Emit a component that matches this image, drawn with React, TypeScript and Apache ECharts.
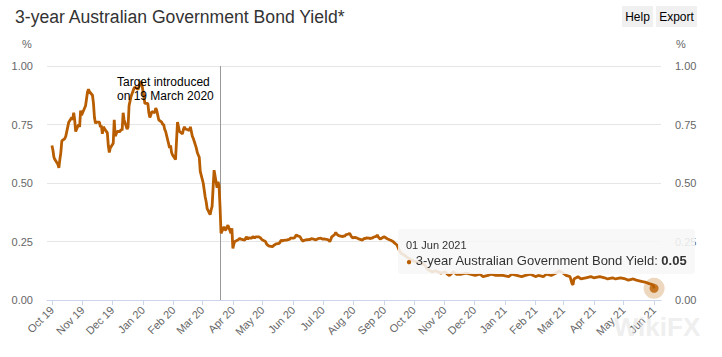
import React, { useEffect, useRef } from 'react';
import * as echarts from 'echarts';

const FONT = '"Liberation Sans", Arial, Helvetica, sans-serif';
const TITLE = '3-year Australian Government Bond Yield*';
const SERIES_NAME = '3-year Australian Government Bond Yield';
const LINE_COLOR = '#b95e00';

const bondYield: [string, number][] = [
  ['2019-10-01', 0.66], ['2019-10-02', 0.64], ['2019-10-03', 0.61], ['2019-10-04', 0.6],
  ['2019-10-07', 0.58], ['2019-10-08', 0.565], ['2019-10-09', 0.6], ['2019-10-10', 0.63],
  ['2019-10-11', 0.68], ['2019-10-14', 0.69], ['2019-10-15', 0.7], ['2019-10-16', 0.72],
  ['2019-10-17', 0.74], ['2019-10-18', 0.76], ['2019-10-21', 0.78], ['2019-10-22', 0.77],
  ['2019-10-23', 0.8], ['2019-10-24', 0.77], ['2019-10-25', 0.72], ['2019-10-28', 0.75],
  ['2019-10-29', 0.74], ['2019-10-30', 0.81], ['2019-10-31', 0.79], ['2019-11-01', 0.8],
  ['2019-11-04', 0.83], ['2019-11-05', 0.86], ['2019-11-06', 0.89], ['2019-11-07', 0.9],
  ['2019-11-08', 0.89], ['2019-11-11', 0.875], ['2019-11-12', 0.84], ['2019-11-13', 0.78],
  ['2019-11-14', 0.755], ['2019-11-15', 0.76], ['2019-11-18', 0.76], ['2019-11-19', 0.74],
  ['2019-11-20', 0.745], ['2019-11-21', 0.71], ['2019-11-22', 0.74], ['2019-11-25', 0.72],
  ['2019-11-26', 0.715], ['2019-11-27', 0.66], ['2019-11-28', 0.63], ['2019-11-29', 0.65],
  ['2019-12-02', 0.67], ['2019-12-03', 0.77], ['2019-12-04', 0.7], ['2019-12-05', 0.71],
  ['2019-12-06', 0.72], ['2019-12-09', 0.72], ['2019-12-10', 0.73], ['2019-12-11', 0.725],
  ['2019-12-12', 0.8], ['2019-12-13', 0.77], ['2019-12-16', 0.73], ['2019-12-17', 0.74],
  ['2019-12-18', 0.83], ['2019-12-19', 0.85], ['2019-12-20', 0.87], ['2019-12-23', 0.905],
  ['2019-12-24', 0.91], ['2019-12-27', 0.9], ['2019-12-30', 0.935], ['2019-12-31', 0.92],
  ['2020-01-02', 0.87], ['2020-01-03', 0.84], ['2020-01-06', 0.84], ['2020-01-07', 0.8],
  ['2020-01-08', 0.78], ['2020-01-09', 0.79], ['2020-01-10', 0.805], ['2020-01-13', 0.8],
  ['2020-01-14', 0.82], ['2020-01-15', 0.81], ['2020-01-16', 0.79], ['2020-01-17', 0.77],
  ['2020-01-20', 0.76], ['2020-01-21', 0.75], ['2020-01-22', 0.75], ['2020-01-23', 0.73],
  ['2020-01-24', 0.72], ['2020-01-28', 0.65], ['2020-01-29', 0.66], ['2020-01-30', 0.63],
  ['2020-01-31', 0.62], ['2020-02-03', 0.6], ['2020-02-04', 0.68], ['2020-02-05', 0.76],
  ['2020-02-06', 0.74], ['2020-02-07', 0.72], ['2020-02-10', 0.71], ['2020-02-11', 0.73],
  ['2020-02-12', 0.74], ['2020-02-13', 0.73], ['2020-02-14', 0.73], ['2020-02-17', 0.725],
  ['2020-02-18', 0.74], ['2020-02-19', 0.72], ['2020-02-20', 0.7], ['2020-02-21', 0.69],
  ['2020-02-24', 0.65], ['2020-02-25', 0.63], ['2020-02-26', 0.62], ['2020-02-27', 0.61],
  ['2020-02-28', 0.55], ['2020-03-02', 0.5], ['2020-03-03', 0.47], ['2020-03-04', 0.44],
  ['2020-03-05', 0.42], ['2020-03-06', 0.39], ['2020-03-09', 0.365], ['2020-03-10', 0.385],
  ['2020-03-11', 0.4], ['2020-03-12', 0.48], ['2020-03-13', 0.555], ['2020-03-16', 0.48],
  ['2020-03-17', 0.505], ['2020-03-18', 0.49], ['2020-03-19', 0.4], ['2020-03-20', 0.285],
  ['2020-03-23', 0.313], ['2020-03-24', 0.3], ['2020-03-25', 0.3], ['2020-03-26', 0.31],
  ['2020-03-27', 0.32], ['2020-03-30', 0.285], ['2020-03-31', 0.306], ['2020-04-01', 0.22],
  ['2020-04-02', 0.24], ['2020-04-03', 0.25], ['2020-04-06', 0.256], ['2020-04-07', 0.26],
  ['2020-04-08', 0.264], ['2020-04-09', 0.26], ['2020-04-13', 0.256], ['2020-04-14', 0.265],
  ['2020-04-15', 0.27], ['2020-04-16', 0.26], ['2020-04-17', 0.265], ['2020-04-20', 0.264],
  ['2020-04-21', 0.27], ['2020-04-22', 0.27], ['2020-04-23', 0.265], ['2020-04-24', 0.27],
  ['2020-04-27', 0.27], ['2020-04-28', 0.268], ['2020-04-29', 0.265], ['2020-04-30', 0.26],
  ['2020-05-01', 0.256], ['2020-05-04', 0.25], ['2020-05-05', 0.24], ['2020-05-06', 0.235],
  ['2020-05-07', 0.232], ['2020-05-08', 0.23], ['2020-05-11', 0.228], ['2020-05-12', 0.232],
  ['2020-05-13', 0.235], ['2020-05-14', 0.238], ['2020-05-15', 0.24], ['2020-05-18', 0.242],
  ['2020-05-19', 0.25], ['2020-05-20', 0.256], ['2020-05-21', 0.252], ['2020-05-22', 0.255],
  ['2020-05-25', 0.256], ['2020-05-26', 0.256], ['2020-05-27', 0.26], ['2020-05-28', 0.258],
  ['2020-05-29', 0.264], ['2020-06-01', 0.264], ['2020-06-02', 0.265], ['2020-06-03', 0.27],
  ['2020-06-04', 0.278], ['2020-06-05', 0.275], ['2020-06-08', 0.27], ['2020-06-09', 0.262],
  ['2020-06-10', 0.255], ['2020-06-11', 0.252], ['2020-06-12', 0.255], ['2020-06-15', 0.258],
  ['2020-06-16', 0.256], ['2020-06-17', 0.26], ['2020-06-18', 0.258], ['2020-06-19', 0.262],
  ['2020-06-22', 0.26], ['2020-06-23', 0.258], ['2020-06-24', 0.256], ['2020-06-25', 0.26],
  ['2020-06-26', 0.262], ['2020-06-29', 0.264], ['2020-06-30', 0.262], ['2020-07-01', 0.26],
  ['2020-07-02', 0.262], ['2020-07-03', 0.26], ['2020-07-06', 0.258], ['2020-07-07', 0.255],
  ['2020-07-08', 0.25], ['2020-07-09', 0.258], ['2020-07-10', 0.27], ['2020-07-13', 0.28],
  ['2020-07-14', 0.289], ['2020-07-15', 0.282], ['2020-07-16', 0.278], ['2020-07-17', 0.275],
  ['2020-07-20', 0.272], ['2020-07-21', 0.27], ['2020-07-22', 0.275], ['2020-07-23', 0.272],
  ['2020-07-24', 0.278], ['2020-07-27', 0.282], ['2020-07-28', 0.285], ['2020-07-29', 0.278],
  ['2020-07-30', 0.27], ['2020-07-31', 0.266], ['2020-08-03', 0.268], ['2020-08-04', 0.265],
  ['2020-08-05', 0.264], ['2020-08-06', 0.262], ['2020-08-07', 0.26], ['2020-08-10', 0.256],
  ['2020-08-11', 0.26], ['2020-08-12', 0.264], ['2020-08-13', 0.262], ['2020-08-14', 0.265],
  ['2020-08-17', 0.264], ['2020-08-18', 0.262], ['2020-08-19', 0.265], ['2020-08-20', 0.264],
  ['2020-08-21', 0.268], ['2020-08-24', 0.272], ['2020-08-25', 0.278], ['2020-08-26', 0.27],
  ['2020-08-27', 0.265], ['2020-08-28', 0.26], ['2020-08-31', 0.268], ['2020-09-01', 0.27],
  ['2020-09-02', 0.268], ['2020-09-03', 0.265], ['2020-09-04', 0.262], ['2020-09-07', 0.256],
  ['2020-09-08', 0.255], ['2020-09-09', 0.252], ['2020-09-10', 0.25], ['2020-09-11', 0.245],
  ['2020-09-14', 0.235], ['2020-09-15', 0.225], ['2020-09-16', 0.215], ['2020-09-18', 0.2],
  ['2020-09-22', 0.19], ['2020-09-25', 0.18], ['2020-09-29', 0.17], ['2020-10-02', 0.165],
  ['2020-10-07', 0.16], ['2020-10-12', 0.15], ['2020-10-15', 0.13], ['2020-10-20', 0.12],
  ['2020-10-23', 0.125], ['2020-10-28', 0.115], ['2020-11-02', 0.12], ['2020-11-04', 0.11],
  ['2020-11-06', 0.105], ['2020-11-10', 0.12], ['2020-11-13', 0.11], ['2020-11-18', 0.11],
  ['2020-11-23', 0.115], ['2020-11-27', 0.11], ['2020-12-02', 0.105], ['2020-12-07', 0.11],
  ['2020-12-10', 0.1], ['2020-12-15', 0.105], ['2020-12-18', 0.11], ['2020-12-23', 0.105],
  ['2020-12-30', 0.105], ['2021-01-05', 0.1], ['2021-01-08', 0.11], ['2021-01-13', 0.105],
  ['2021-01-18', 0.1], ['2021-01-22', 0.105], ['2021-01-27', 0.11], ['2021-02-01', 0.1],
  ['2021-02-04', 0.105], ['2021-02-09', 0.1], ['2021-02-12', 0.11], ['2021-02-17', 0.105],
  ['2021-02-22', 0.115], ['2021-02-25', 0.125], ['2021-03-01', 0.115], ['2021-03-04', 0.105],
  ['2021-03-08', 0.1], ['2021-03-10', 0.07], ['2021-03-11', 0.065], ['2021-03-12', 0.09],
  ['2021-03-16', 0.1], ['2021-03-19', 0.09], ['2021-03-24', 0.095], ['2021-03-29', 0.1],
  ['2021-04-01', 0.095], ['2021-04-07', 0.1], ['2021-04-12', 0.095], ['2021-04-15', 0.09],
  ['2021-04-20', 0.095], ['2021-04-23', 0.09], ['2021-04-28', 0.095], ['2021-05-03', 0.09],
  ['2021-05-06', 0.085], ['2021-05-11', 0.09], ['2021-05-14', 0.085], ['2021-05-19', 0.08],
  ['2021-05-24', 0.075], ['2021-05-27', 0.07], ['2021-05-31', 0.065], ['2021-06-01', 0.05],
];

const xTickMonths = [
  '2019-10-01', '2019-11-01', '2019-12-01', '2020-01-01', '2020-02-01', '2020-03-01',
  '2020-04-01', '2020-05-01', '2020-06-01', '2020-07-01', '2020-08-01', '2020-09-01',
  '2020-10-01', '2020-11-01', '2020-12-01', '2021-01-01', '2021-02-01', '2021-03-01',
  '2021-04-01', '2021-05-01', '2021-06-01',
];
const MONTHS = ['Jan', 'Feb', 'Mar', 'Apr', 'May', 'Jun', 'Jul', 'Aug', 'Sep', 'Oct', 'Nov', 'Dec'];
const yMin = 0;
const yMax = 1;
const yInterval = 0.25;
const axisStart = '2019-09-26';
const axisEnd = '2021-06-08';
const targetDate = '2020-03-19';
const targetLabel = 'Target introduced\non 19 March 2020';

const toTime = (s: string) => {
  const [y, m, d] = s.split('-').map(Number);
  return new Date(y, m - 1, d).getTime();
};
const pad2 = (n: number) => (n < 10 ? '0' + n : '' + n);

export default function App() {
  const ref = useRef<HTMLDivElement>(null);

  useEffect(() => {
    document.body.style.margin = '0';
    if (!ref.current) return;
    const chart = echarts.init(ref.current, undefined, { renderer: 'svg' });
    const data = bondYield.map(([d, v]) => [toTime(d), v]);
    const last = data[data.length - 1];
    const lastDate = new Date(last[0] as number);
    const lastLabel = `${pad2(lastDate.getDate())} ${MONTHS[lastDate.getMonth()]} ${lastDate.getFullYear()}`;
    const ticks = xTickMonths.map(toTime);

    const yAxisBase = {
      type: 'value',
      min: yMin,
      max: yMax,
      interval: yInterval,
      axisLine: { show: false },
      axisTick: { show: false },
      axisLabel: {
        formatter: (v: number) => v.toFixed(2),
        color: '#666666',
        fontSize: 11,
        fontFamily: FONT,
        margin: 14,
      },
    };

    chart.setOption({
      animation: false,
      textStyle: { fontFamily: FONT },
      title: {
        text: TITLE,
        left: 10,
        top: 3,
        textStyle: { fontSize: 17.6, fontWeight: 'normal', color: '#333333', fontFamily: FONT },
      },
      grid: { left: 47, right: 61, top: 66, bottom: 57 },
      tooltip: {
        trigger: 'item',
        triggerOn: 'none',
        alwaysShowContent: true,
        transitionDuration: 0,
        position: [398, 229],
        backgroundColor: 'rgba(247,247,247,0.88)',
        borderWidth: 0,
        padding: [8, 8, 4, 8],
        extraCssText: `box-shadow:none;border-radius:3px;font-family:${FONT};`,
        formatter: () =>
          `<div style="font-size:11px;color:#333;line-height:16px">${lastLabel}</div>` +
          `<div style="font-size:13px;color:#333;line-height:16px;white-space:nowrap">` +
          `<span style="color:${LINE_COLOR};font-size:10px">\u25CF</span> ${SERIES_NAME}: <b>${(last[1] as number).toFixed(2)}</b></div>`,
      },
      xAxis: {
        type: 'value',
        min: toTime(axisStart),
        max: toTime(axisEnd),
        splitLine: { show: false },
        axisLine: { lineStyle: { color: '#ccd6eb', width: 1 } },
        axisTick: { customValues: ticks, length: 5, lineStyle: { color: '#ccd6eb' } },
        axisLabel: {
          customValues: ticks,
          rotate: 45,
          color: '#666666',
          fontSize: 11,
          fontFamily: FONT,
          margin: 8,
          formatter: (v: number) => {
            const d = new Date(v);
            return `${MONTHS[d.getMonth()]} ${pad2(d.getFullYear() % 100)}`;
          },
        },
      },
      yAxis: [
        { ...yAxisBase, position: 'left', splitLine: { lineStyle: { color: '#e6e6e6' } } },
        { ...yAxisBase, position: 'right', splitLine: { show: false } },
      ],
      series: [
        {
          name: SERIES_NAME,
          type: 'line',
          data,
          showSymbol: false,
          symbol: 'none',
          lineStyle: { color: LINE_COLOR, width: 2.8 },
          itemStyle: { color: LINE_COLOR },
          emphasis: { disabled: true },
          silent: true,
          z: 3,
          markLine: {
            silent: true,
            symbol: ['none', 'none'],
            label: { show: false },
            lineStyle: { color: '#999999', width: 1, type: 'solid' },
            data: [{ xAxis: toTime(targetDate) }],
            z: 2,
          },
        },
        {
          name: 'halo',
          type: 'scatter',
          data: [last],
          symbolSize: 21,
          itemStyle: { color: LINE_COLOR, opacity: 0.25 },
          emphasis: { disabled: true },
          silent: true,
          z: 4,
        },
        {
          name: SERIES_NAME,
          type: 'scatter',
          data: [last],
          symbolSize: 9,
          itemStyle: { color: LINE_COLOR },
          emphasis: { disabled: true },
          z: 5,
        },
      ],
      graphic: [
        { type: 'rect', shape: { x: 622, y: 6, width: 31, height: 21 }, style: { fill: '#f0f0f0' } },
        { type: 'text', x: 637.5, y: 16.5, style: { text: 'Help', fontSize: 12, fontFamily: FONT, fill: '#000', align: 'center', verticalAlign: 'middle' } },
        { type: 'rect', shape: { x: 656, y: 6, width: 41, height: 21 }, style: { fill: '#f0f0f0' } },
        { type: 'text', x: 676.5, y: 16.5, style: { text: 'Export', fontSize: 12, fontFamily: FONT, fill: '#000', align: 'center', verticalAlign: 'middle' } },
        { type: 'text', x: 27, y: 44, style: { text: '%', fontSize: 11, fontFamily: FONT, fill: '#666', align: 'center', verticalAlign: 'middle' } },
        { type: 'text', x: 681, y: 44, style: { text: '%', fontSize: 11, fontFamily: FONT, fill: '#666', align: 'center', verticalAlign: 'middle' } },
        { type: 'text', x: 117, y: 75, z: 10, style: { text: targetLabel, fontSize: 12, lineHeight: 14, fontFamily: FONT, fill: '#000', align: 'left', verticalAlign: 'top' } },
        { type: 'text', x: 657, y: 327, z: 20, style: { text: 'WikiFX', fontSize: 26, fontWeight: 'bold', fontFamily: FONT, fill: 'rgba(225,225,225,0.55)', align: 'center', verticalAlign: 'middle' } },
      ],
    });

    chart.dispatchAction({ type: 'showTip', seriesIndex: 2, dataIndex: 0 });

    return () => chart.dispose();
  }, []);

  return (
    <div
      ref={ref}
      style={{ position: 'relative', width: 722, height: 357, background: '#fff' }}
    />
  );
}
